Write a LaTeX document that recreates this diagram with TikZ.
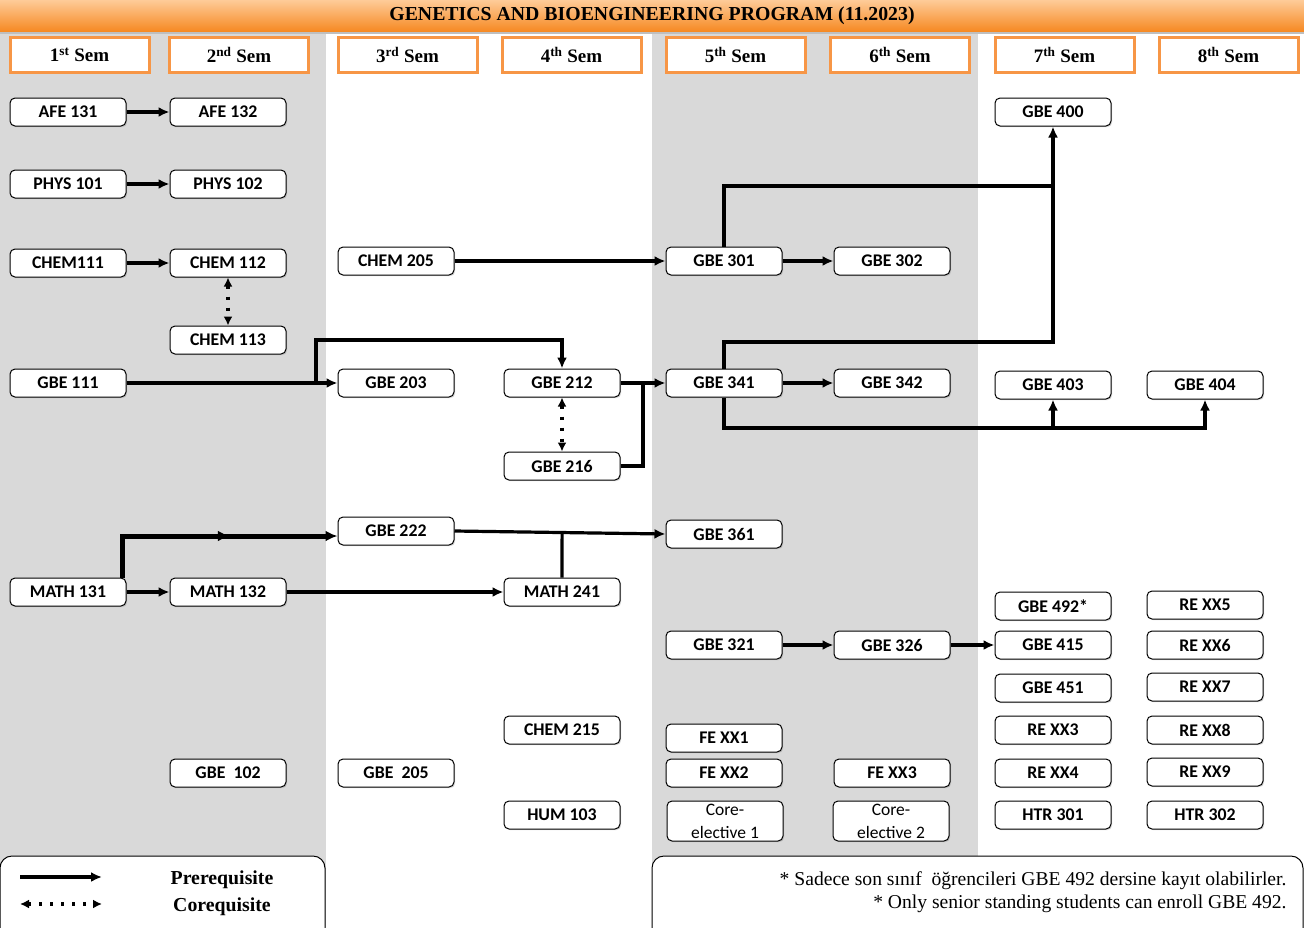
\documentclass[tikz,border=0pt]{standalone}
\usepackage{fontspec}
\setmainfont{Liberation Serif}
\newfontfamily\calibri{Carlito}
\usetikzlibrary{arrows.meta,decorations.markings,calc,shadows}
\definecolor{bandgray}{HTML}{D9D9D9}
\definecolor{semorange}{HTML}{F79646}
\definecolor{titletop}{HTML}{FECB98}
\definecolor{titlebot}{HTML}{F68A24}
\tikzset{
  course/.style={draw=black, line width=1pt, rounded corners=5pt, fill=white,
    minimum width=116pt, minimum height=28pt, inner sep=0pt,
    drop shadow={shadow xshift=1.2pt, shadow yshift=-1.2pt, opacity=0.3},
    font=\calibri\bfseries\fontsize{17.8}{19}\selectfont},
  coreel/.style={course, minimum height=40pt, align=center,
    font=\calibri\fontsize{17.5}{23}\selectfont},
  sembox/.style={draw=semorange, line width=3pt, fill=white,
    minimum width=139pt, minimum height=35pt, inner sep=0pt,
    drop shadow={shadow xshift=1.5pt, shadow yshift=-1.5pt, opacity=0.25},
    font=\bfseries\fontsize{19}{20}\selectfont},
  pre/.style={line width=3.2pt, -{Latex[length=11pt,width=10pt]}},
  thickpre/.style={line width=5pt, -{Latex[length=12pt,width=11pt]}},
  link/.style={line width=3.2pt},
  coreq/.style={line width=3.2pt, dash pattern=on 3pt off 8pt,
    {Latex[length=9pt,width=9pt]}-{Latex[length=9pt,width=9pt]}},
  legtext/.style={font=\bfseries\fontsize{19.8}{21}\selectfont},
  notetext/.style={font=\fontsize{19.6}{21}\selectfont, anchor=east},
}
\begin{document}
\begin{tikzpicture}[x=1pt, y=-1pt]
\useasboundingbox (0,0) rectangle (1304,927);
\clip (0,0) rectangle (1304,927);
% background bands
\fill[bandgray] (0,30) rectangle (326,927);
\fill[bandgray] (652,30) rectangle (978,927);
% title bar
\fill[black!25] (0,3) rectangle (1304,34);
\shade[top color=titletop, bottom color=titlebot] (0,0) rectangle (1304,31);
\node[font=\bfseries\fontsize{19.8}{21}\selectfont] (title) at (652,15.5) {GENETICS AND BIOENGINEERING PROGRAM (11.2023)};
% semester headers
\node[sembox] (s1) at (79.5,55) {1\textsuperscript{st} Sem};
\node[sembox] (s2) at (239,55) {2\textsuperscript{nd} Sem};
\node[sembox] (s3) at (407.5,55) {3\textsuperscript{rd} Sem};
\node[sembox] (s4) at (571.5,55) {4\textsuperscript{th} Sem};
\node[sembox] (s5) at (735.5,55) {5\textsuperscript{th} Sem};
\node[sembox] (s6) at (900,55) {6\textsuperscript{th} Sem};
\node[sembox] (s7) at (1064.5,55) {7\textsuperscript{th} Sem};
\node[sembox] (s8) at (1228.5,55) {8\textsuperscript{th} Sem};
% courses
\node[course] (afe131) at (68,112) {AFE 131};
\node[course] (afe132) at (228,112) {AFE 132};
\node[course] (phys101) at (68,184) {PHYS 101};
\node[course] (phys102) at (228,184) {PHYS 102};
\node[course] (chem111) at (68,263) {CHEM111};
\node[course] (chem112) at (228,263) {CHEM 112};
\node[course] (chem113) at (228,340) {CHEM 113};
\node[course] (chem205) at (396,261) {CHEM 205};
\node[course] (g301) at (724,261) {GBE 301};
\node[course] (g302) at (892,261) {GBE 302};
\node[course] (g400) at (1053,112) {GBE 400};
\node[course] (g111) at (68,383) {GBE 111};
\node[course] (g203) at (396,383) {GBE 203};
\node[course] (g212) at (562,383) {GBE 212};
\node[course] (g216) at (562,466) {GBE 216};
\node[course] (g341) at (724,383) {GBE 341};
\node[course] (g342) at (892,383) {GBE 342};
\node[course] (g403) at (1053,385) {GBE 403};
\node[course] (g404) at (1205,385) {GBE 404};
\node[course] (g222) at (396,531) {GBE 222};
\node[course] (g361) at (724,534) {GBE 361};
\node[course] (m131) at (68,592) {MATH 131};
\node[course] (m132) at (228,592) {MATH 132};
\node[course] (m241) at (562,592) {MATH 241};
\node[course] (g492) at (1053,606) {GBE 492*};
\node[course] (rex5) at (1205,605) {RE XX5};
\node[course] (g321) at (724,645) {GBE 321};
\node[course] (g326) at (892,645) {GBE 326};
\node[course] (g415) at (1053,645) {GBE 415};
\node[course] (rex6) at (1205,645) {RE XX6};
\node[course] (g451) at (1053,688) {GBE 451};
\node[course] (rex7) at (1205,687) {RE XX7};
\node[course] (chem215) at (562,730) {CHEM 215};
\node[course] (fex1) at (724,738) {FE XX1};
\node[course] (rex3) at (1053,730) {RE XX3};
\node[course] (rex8) at (1205,730) {RE XX8};
\node[course] (g102) at (228,773) {GBE\ \ 102};
\node[course] (g205) at (396,773) {GBE\ \ 205};
\node[course] (fex2) at (724,773) {FE XX2};
\node[course] (fex3) at (892,773) {FE XX3};
\node[course] (rex4) at (1053,773) {RE XX4};
\node[course] (rex9) at (1205,772) {RE XX9};
\node[course] (hum103) at (562,815) {HUM 103};
\node[coreel] (ce1) at (725,821) {Core-\\elective 1};
\node[coreel] (ce2) at (891,821) {Core-\\elective 2};
\node[course] (htr301) at (1053,815) {HTR 301};
\node[course] (htr302) at (1205,815) {HTR 302};
% connectors
\draw[pre] (afe131) -- (afe132);
\draw[pre] (phys101) -- (phys102);
\draw[pre] (chem111) -- (chem112);
\draw[coreq] (chem112) -- (chem113);
\draw[pre] (chem205.east) -- (g301.west);
\draw[pre] (g301) -- (g302);
\coordinate (j400) at (1053,186);
\draw[link] (g301.north) |- (j400);
\draw[pre] (g341.north) |- (1053,342) -- (g400.south);
\coordinate (j1) at (316,383);
\draw[pre] (g111) -- (g203);
\draw[pre] (j1) -- ++(0,-43) -| (g212.north);
\draw[pre] (g212) -- (g341);
\coordinate (j2) at (643,383);
\draw[link] (g216.east) -| (j2);
\draw[coreq] (g212) -- (g216);
\draw[pre] (g341) -- (g342);
\coordinate (j4) at (1053,428);
\draw[pre] (g341.south) |- (1205,428) -- (g404.south);
\draw[pre] (j4) -- (g403.south);
\draw[pre] (m131) -- (m132);
\draw[thickpre, postaction={decorate}, decoration={markings, mark=at position 0.58 with {\arrow{Latex[length=12pt,width=11pt]}}}]
  ([xshift=-4pt]m131.north east) |- ([yshift=-5pt]g222.west);
\draw[pre] (m132) -- (m241);
\path (g222.east) -- coordinate[pos=0.51] (j5) (g361.west);
\draw[pre] (g222.east) -- (g361.west);
\draw[link] (m241.north) -- (j5);
\draw[pre] (g321) -- (g326);
\draw[pre] (g326) -- (g415);
% legend
\draw[line width=1pt, fill=white, rounded corners=12pt] (0,856) rectangle (325,950);
\coordinate (l1) at (20,877);
\coordinate (l2) at (102,877);
\coordinate (l3) at (20,904);
\coordinate (l4) at (102,904);
\draw[pre] (l1) -- (l2);
\draw[coreq] (l3) -- (l4);
\node[legtext] (lpre) at (222,880) {Prerequisite};
\node[legtext] (lco) at (222,907) {Corequisite};
% note
\draw[line width=1pt, fill=white, rounded corners=12pt] (652,856) rectangle (1303,950);
\node[notetext] (n1) at (1290,880.5) {* Sadece son sınıf\ \ öğrencileri GBE 492 dersine kayıt olabilirler.};
\node[notetext] (n2) at (1290,903.5) {* Only senior standing students can enroll GBE 492.};
\end{tikzpicture}
\end{document}
